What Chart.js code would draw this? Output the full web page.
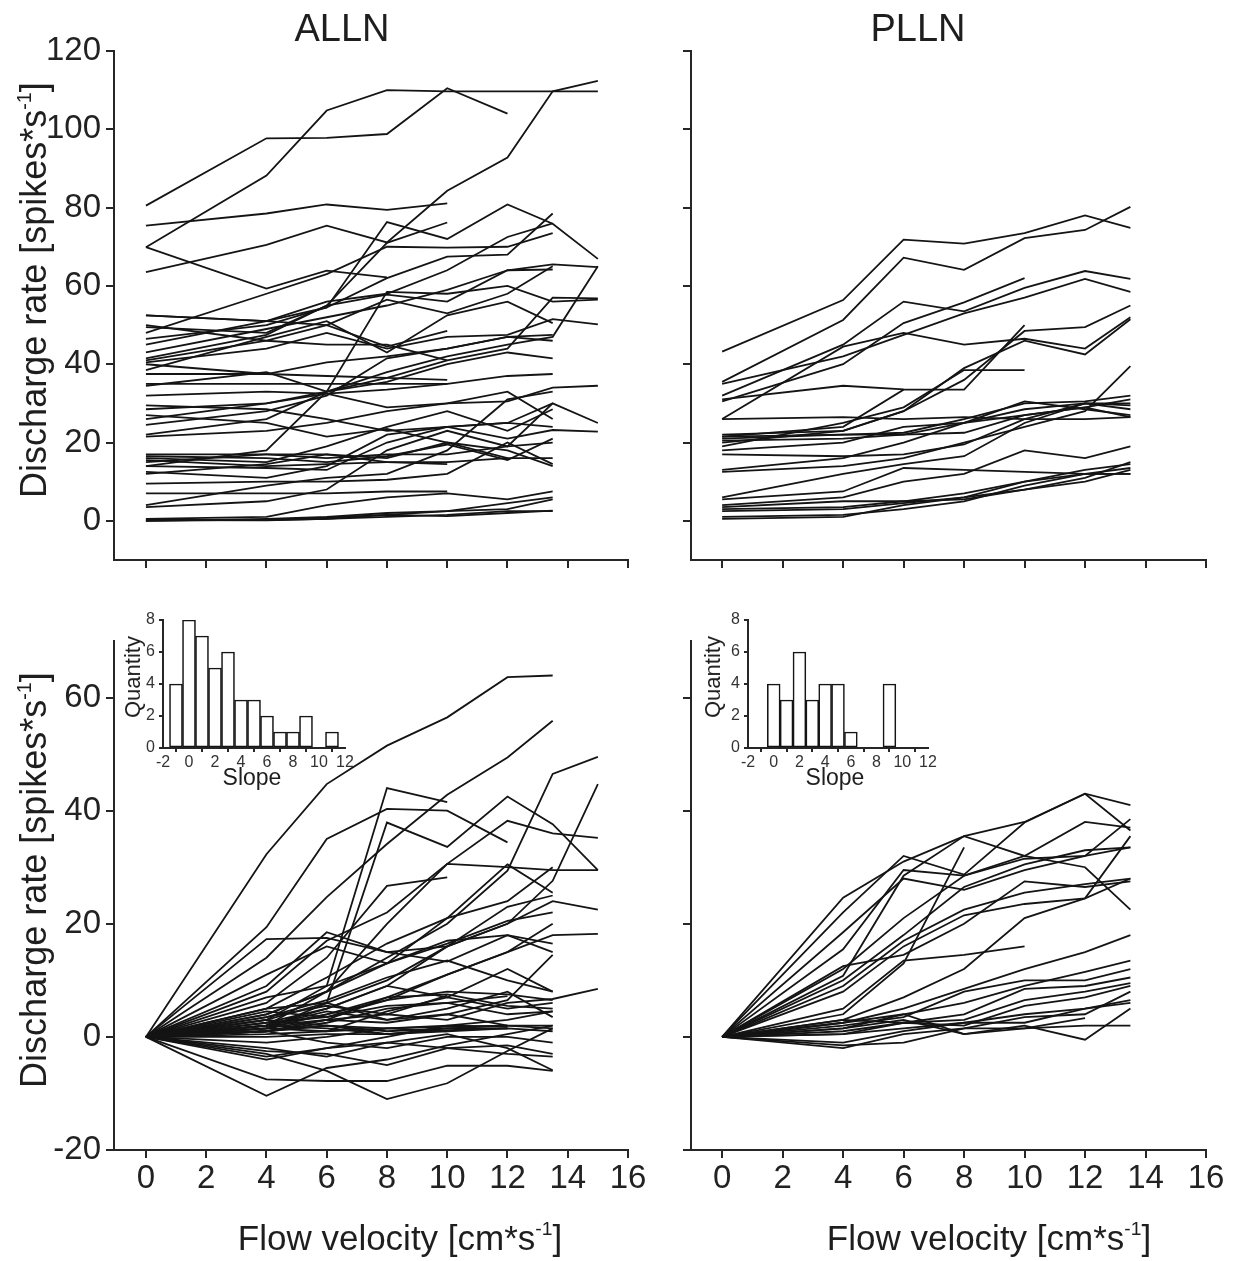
<!DOCTYPE html>
<html>
<head>
<meta charset="utf-8">
<title>ALLN / PLLN discharge rate vs flow velocity</title>
<script src="https://cdn.jsdelivr.net/npm/chart.js@4.4.1/dist/chart.umd.min.js"></script>
<style>
  html, body { margin: 0; padding: 0; background: #fff; }
  #fig { position: relative; width: 1240px; height: 1261px; overflow: hidden;
         font-family: 'Liberation Sans', Arial, sans-serif; color: #1e1e1e; }
  #fig canvas { position: absolute; left: 0; top: 0; }
  .lbl { position: absolute; white-space: nowrap; line-height: 1; transform: translate(-50%, -50%); }
  .rot { transform: translate(-50%, -50%) rotate(-90deg); }
  .sup { font-size: 0.55em; position: relative; top: -0.78em; }
</style>
</head>
<body>
<div id="fig">
  <canvas id="allnRaw" width="1240" height="1261"></canvas>
  <canvas id="pllnRaw" width="1240" height="1261"></canvas>
  <canvas id="allnDelta" width="1240" height="1261"></canvas>
  <canvas id="pllnDelta" width="1240" height="1261"></canvas>
  <canvas id="allnSlope" width="1240" height="1261"></canvas>
  <canvas id="pllnSlope" width="1240" height="1261"></canvas>

  <div class="lbl" style="left:342px;top:28px;font-size:38px">ALLN</div>
  <div class="lbl" style="left:918px;top:28px;font-size:38px">PLLN</div>

  <div class="lbl rot" style="left:34px;top:290px;font-size:36px">Discharge rate [spikes*s<span class="sup">-1</span>]</div>
  <div class="lbl rot" style="left:34px;top:880px;font-size:36px">Discharge rate [spikes*s<span class="sup">-1</span>]</div>

  <div class="lbl" style="left:400px;top:1237px;font-size:35px">Flow velocity [cm*s<span class="sup">-1</span>]</div>
  <div class="lbl" style="left:989px;top:1237px;font-size:35px">Flow velocity [cm*s<span class="sup">-1</span>]</div>

  <div class="lbl rot" style="left:133px;top:677px;font-size:22px">Quantity</div>
  <div class="lbl rot" style="left:713px;top:677px;font-size:22px">Quantity</div>
  <div class="lbl" style="left:252px;top:777px;font-size:23px">Slope</div>
  <div class="lbl" style="left:835px;top:777px;font-size:23px">Slope</div>
</div>

<script>
// ---- flow velocities at which each unit was recorded ----
const VEL_ALLN = [0, 4, 6, 8, 10, 12, 13.5, 15];
const VEL_PLLN = [0, 4, 6, 8, 10, 12, 13.5];

// ---- tick values ----
const X_TICKS = [0, 2, 4, 6, 8, 10, 12, 14, 16];
const Y_TICKS_RAW = [0, 20, 40, 60, 80, 100, 120];
const Y_TICKS_DELTA = [-20, 0, 20, 40, 60];
const SLOPE_TICKS = [-2, 0, 2, 4, 6, 8, 10, 12];
const COUNT_TICKS = [0, 2, 4, 6, 8];

// ---- ALLN units: discharge rate (spikes/s) per velocity ----
const ALLN_RAW = [
  [80.5, 97.7, 97.8, 98.8, 110.5, 104],
  [69.9, 88.2, 104.8, 110.0, 109.7, 109.7, 109.7, 109.7],
  [75.4, 78.5, 80.8, 79.4, 81.1],
  [69.9, 59.3, 63.9, 62.2],
  [63.5, 70.5, 75.4, 71.1, 84.3, 92.8, 109.7, 112.4],
  [52.5, 51.0, 54.5, 76.3, 72.0, 80.8, 75.9, 66.9],
  [49.5, 48.0, 55.0, 71.0, 76.2],
  [48.0, 58.0, 63.0, 70.0, 69.8, 70.0, 73.5],
  [46.5, 50.0, 54.5, 62.0, 67.5, 68.0, 78.5],
  [45.0, 51.0, 56.0, 58.0, 64.0, 72.5, 76.0],
  [43.0, 49.0, 52.0, 55.0, 59.0, 64.0, 65.5, 64.8],
  [41.5, 47.5, 55.0, 57.8, 56.0, 64.0, 64.2],
  [41.0, 46.0, 50.0, 56.5, 53.0, 58.0, 65.0],
  [40.5, 44.0, 48.0, 44.0, 47.0, 47.5, 51.5, 50.2],
  [38.5, 47.0, 51.0, 43.0, 52.5, 56.0, 50.5],
  [52.5, 51.0, 50.0, 44.5, 48.5],
  [50.0, 46.0, 45.0, 45.0, 41.0],
  [40.0, 37.5, 40.5, 42.0, 44.0, 47.0, 47.5],
  [37.5, 37.5, 37.0, 36.5, 36.0],
  [35.0, 35.0, 35.0, 35.0, 35.0],
  [34.5, 38.0, 33.0, 35.5, 40.0, 43.0, 41.5],
  [32.0, 33.0, 32.5, 29.0, 30.0, 33.0, 26.0],
  [29.5, 28.5, 26.0, 23.0, 24.0, 21.0, 23.2, 22.8],
  [28.5, 30.0, 33.0, 38.0, 42.0, 45.0, 47.0, 65.0],
  [14.0, 18.0, 33.0, 58.5, 58.0, 60.0, 56.0, 56.5],
  [27.0, 25.0, 21.5, 23.5, 20.0, 16.0, 16.0],
  [26.0, 30.0, 32.5, 33.5, 35.0, 37.0, 37.5],
  [24.5, 28.0, 32.0, 41.5, 44.0, 47.0, 46.0],
  [22.0, 26.0, 33.0, 36.5, 41.0, 44.0, 57.0, 56.8],
  [21.5, 23.0, 25.0, 28.0, 30.0, 30.5, 34.0, 34.5],
  [17.0, 17.0, 16.0, 17.0, 17.0, 19.0, 20.0],
  [16.5, 16.0, 15.0, 16.5, 19.5, 15.5, 21.0],
  [16.0, 15.0, 19.0, 24.0, 28.0, 23.0, 28.5],
  [15.5, 14.0, 14.5, 15.0, 15.0, 16.0],
  [15.0, 17.0, 17.0, 15.0, 14.5],
  [14.0, 13.5, 13.0, 20.0, 24.0, 25.0, 30.0],
  [12.5, 11.0, 14.0, 22.0, 24.0, 25.0, 24.0],
  [12.0, 14.5, 17.0, 16.0, 20.0, 18.0, 14.0],
  [9.5, 10.0, 10.0, 10.5, 12.0, 20.0, 14.5],
  [7.0, 7.0, 7.0, 7.5, 7.5],
  [4.0, 9.0, 11.0, 12.0, 18.0, 31.0, 33.0],
  [3.5, 5.0, 8.0, 18.0, 23.0, 19.0, 30.0, 25.0],
  [0.5, 1.0, 4.0, 6.0, 7.0, 5.5, 7.5],
  [0.3, 0.2, 0.5, 1.5, 2.5, 4.5, 6.0],
  [0.2, 0.1, 0.5, 1.0, 1.5, 2.5, 2.5],
  [0.0, 0.5, 1.0, 2.0, 2.5, 3.0, 5.5],
  [0.0, 0.3, 0.8, 1.5, 1.2, 2.0, 2.6]
];

// ---- PLLN units: discharge rate (spikes/s) per velocity ----
const PLLN_RAW = [
  [43.2, 56.4, 71.8, 70.8, 73.5, 78.0, 74.8],
  [35.5, 51.3, 67.2, 64.1, 72.2, 74.3, 80.2],
  [35.0, 42.0, 47.5, 53.0, 57.0, 61.8, 58.5],
  [32.0, 45.0, 56.0, 53.5, 59.5, 63.8, 61.8],
  [30.5, 40.0, 50.5, 55.8, 62.0],
  [26.0, 44.5, 48.0, 45.0, 46.5, 44.0, 52.0],
  [26.0, 26.5, 26.0, 26.5, 26.0, 26.0, 26.5],
  [22.0, 23.0, 28.0, 36.0, 48.5, 49.5, 55.0],
  [21.5, 24.0, 33.5, 33.5, 50.0],
  [21.0, 22.0, 22.5, 26.0, 30.0, 30.5, 32.0],
  [20.5, 21.0, 22.0, 22.5, 27.0, 29.0, 31.0],
  [20.0, 23.0, 28.0, 39.0, 46.0, 42.5, 51.5],
  [19.0, 25.0, 29.0, 38.5, 38.5],
  [18.0, 20.0, 24.0, 25.0, 28.5, 30.0, 29.5],
  [17.0, 16.5, 17.0, 19.5, 26.0, 30.0, 28.5],
  [13.0, 16.0, 20.0, 25.0, 27.0, 29.0, 26.5],
  [12.5, 14.0, 16.0, 20.0, 24.0, 28.0, 39.5],
  [31.0, 34.5, 33.6],
  [6.0, 12.0, 14.5, 16.5, 25.0, 30.0, 30.0],
  [5.5, 7.5, 13.5, 13.0, 12.5, 12.0, 12.0],
  [4.0, 6.0, 10.0, 12.0, 18.0, 16.0, 19.0],
  [3.5, 5.0, 5.0, 7.0, 10.0, 13.0, 14.5],
  [3.0, 3.5, 5.0, 5.5, 8.0, 11.0, 15.0],
  [2.5, 3.0, 4.5, 6.0, 8.0, 10.0, 13.0],
  [1.0, 1.5, 3.0, 5.0, 9.0, 12.0, 13.5],
  [0.5, 1.0, 4.0, 6.0, 10.0, 12.0, 12.0],
  [21.5, 22.0, 22.0, 25.0, 30.5, 28.5, 27.0]
];

// ---- ALLN units: change of rate relative to still water ----
const ALLN_DELTA = [
  [0, 32.3, 44.7, 51.5, 56.5, 63.6, 63.9],
  [0, 14.0, 24.7, 34.1, 42.8, 49.4, 55.9],
  [0, 19.4, 35.0, 40.3, 40.0, 34.4],
  [0, 3.0, 9.0, 44.0, 41.5],
  [0, 1.5, 6.0, 37.9, 33.6, 42.5, 37.6, 29.5],
  [0, 2.0, 8.0, 20.0, 30.6, 38.2, 36.0, 35.2],
  [0, 4.0, 8.0, 14.0, 20.0, 29.4, 46.5, 49.5],
  [0, 2.0, 5.0, 9.0, 16.0, 20.0, 27.6, 44.7],
  [0, 8.0, 17.0, 22.0, 30.6, 30.0, 29.5, 29.5],
  [0, 6.0, 14.0, 26.7, 28.2],
  [0, 3.0, 6.0, 10.0, 16.0, 20.0, 24.0, 22.5],
  [0, 1.5, 4.0, 7.0, 11.0, 15.0, 18.0, 18.2],
  [0, 2.0, 3.0, 4.0, 3.0, 6.0, 6.7, 8.5],
  [0, 17.3, 17.5, 15.0, 13.3, 18.0, 16.5],
  [0, -10.4, -5.5, -4.0, -1.5, 0.5, 2.0],
  [0, -3.0, -6.0, -11.0, -8.2, -2.5, 1.5],
  [0, -7.5, -7.8, -7.8, -5.1, -5.1, -6.0],
  [0, -2.0, -3.5, -1.0, 0.5, -2.0, -5.9],
  [0, -4.0, -2.0, -1.0, -2.0, -3.0, -3.5],
  [0, 1.0, -1.0, -2.0, 0.0, 0.0, -1.0],
  [0, 9.0, 18.5, 15.0, 16.0, 23.0, 25.0],
  [0, 11.0, 16.0, 13.0, 16.5, 20.5, 22.0],
  [0, 7.0, 9.0, 13.0, 21.0, 24.0, 30.0],
  [0, 5.0, 10.5, 16.5, 21.0, 30.5, 25.5],
  [0, 4.0, 8.0, 13.0, 17.0, 18.0, 15.0],
  [0, 3.5, 6.5, 10.5, 13.5, 10.0, 8.0],
  [0, 2.5, 5.0, 9.0, 7.0, 12.0, 8.0],
  [0, 2.0, 4.0, 6.5, 8.0, 7.5, 6.5],
  [0, 1.5, 3.0, 7.0, 7.5, 5.5, 5.0],
  [0, 1.0, 2.5, 5.0, 6.0, 4.0, 4.5],
  [0, 3.0, 2.0, 1.0, 1.5, 2.0, 2.0],
  [0, 2.0, 1.5, 0.5, 1.0, 1.5, 1.0],
  [0, 0.5, 1.0, 1.5, 1.8, 2.0],
  [0, 1.0, 2.0, 0.5, 1.2, 1.5],
  [0, -1.0, 0.0, 1.5, 2.0, 1.8],
  [0, 0.0, 0.5, 0.5, 1.5, 1.5],
  [0, 2.5, 3.5, 5.5, 6.0, 7.2],
  [0, 3.5, 5.5, 4.0, 7.3],
  [0, 1.0, 2.0, 1.5, 1.0],
  [0, -2.5, -3.0, -5.0, -2.0, -1.5, -3.0],
  [0, -3.5, -2.0, 0.0, 2.0, 3.0, 4.5],
  [0, 4.5, 3.5, 6.5, 11.0, 15.0, 20.0],
  [0, 1.0, 3.0, 2.5, 4.0, 6.5, 14.5],
  [0, 2.0, 4.5, 3.0, 5.0, 8.0, 3.5],
  [0, 5.0, 6.0, 3.0, 4.0, 2.0, 1.5],
  [0, 1.5, 1.0, 4.5, 7.0, 5.0, 6.0]
];

// ---- PLLN units: change of rate relative to still water ----
const PLLN_DELTA = [
  [0, 24.6, 31.0, 35.5, 38.0, 43.0, 41.0],
  [0, 22.0, 32.0, 28.7, 37.9, 43.0, 36.5],
  [0, 18.5, 28.0, 26.0, 29.5, 32.0, 38.5],
  [0, 15.5, 29.5, 28.5, 32.0, 30.0, 22.5],
  [0, 12.0, 21.0, 28.5, 31.5, 32.0, 33.5],
  [0, 9.0, 17.0, 22.5, 25.5, 27.0, 28.0],
  [0, 12.5, 14.5, 20.0, 27.5, 26.5, 27.5],
  [0, 8.0, 16.0, 21.5, 23.5, 24.5, 35.5],
  [0, 5.0, 13.5, 14.5, 16.0],
  [0, 4.0, 13.0, 33.5],
  [0, 3.0, 7.0, 12.0, 21.0, 24.5, 28.0],
  [0, 2.5, 5.0, 8.5, 12.0, 15.0, 18.0],
  [0, 1.5, 4.0, 6.0, 9.0, 11.5, 13.5],
  [0, 2.0, 3.5, 8.0, 10.0, 10.0, 12.0],
  [0, 3.0, 2.5, 4.0, 8.5, 9.0, 10.5],
  [0, 1.0, 2.5, 3.0, 6.5, 8.0, 9.5],
  [0, 0.5, 2.5, 2.0, 5.5, 7.0, 9.0],
  [0, -2.0, 0.5, 1.5, 3.5, 4.0, 8.0],
  [0, -1.0, 1.0, 2.5, 2.5, 5.0, 6.5],
  [0, 1.5, 3.0, 0.5, 2.0, -0.5, 5.0],
  [0, -1.5, -1.0, 1.5, 1.5, 2.0, 2.0],
  [0, 2.5, 4.0, 0.5, 1.5, 3.3],
  [0, 0.5, 1.5, 2.5, 4.0, 5.0, 6.0],
  [0, 10.0, 18.0, 26.5, 30.5, 33.0, 33.5],
  [0, 10.8, 28.5, 35.5, 32.0, 38.0, 37.0]
];

// ---- slope histograms (bin centre, number of units) ----
const SLOPE_BINS_ALLN = [-1, 0, 1, 2, 3, 4, 5, 6, 7, 8, 9, 10, 11];
const SLOPE_COUNT_ALLN = [4, 8, 7, 5, 6, 3, 3, 2, 1, 1, 2, 0, 1];
const SLOPE_BINS_PLLN = [0, 1, 2, 3, 4, 5, 6, 7, 8, 9];
const SLOPE_COUNT_PLLN = [4, 3, 6, 3, 4, 4, 1, 0, 0, 4];

// ---------------------------------------------------------------
const PAGE_W = 1240, PAGE_H = 1261;
const INK = '#141414';
const AXIS = '#262626';
Chart.defaults.font.family = "'Liberation Sans', Arial, sans-serif";
Chart.defaults.color = '#1e1e1e';

function fixedTicks(values) {
  return scale => { scale.ticks = values.map(v => ({ value: v })); };
}

function axisStyle(tickLen, width) {
  return {
    grid: { display: true, drawOnChartArea: false, drawTicks: true, tickLength: tickLen,
            color: AXIS, lineWidth: width },
    border: { display: true, color: AXIS, width: width }
  };
}

// layout padding that puts the plot area at fixed page coordinates
function placed(area, wy, hx) {
  return {
    left: area.l - wy,
    top: area.t,
    right: PAGE_W - area.r,
    bottom: PAGE_H - area.b - hx
  };
}

function ratePanel(id, area, series, vel, xRange, yRange, yTicks, showX, showY) {
  const WY = 104, HX = 52;
  const datasets = series.map(s => ({
    data: s.map((v, i) => ({ x: vel[i], y: v })),
    borderColor: INK,
    borderWidth: 1.8,
    pointRadius: 0,
    fill: false,
    tension: 0
  }));
  return new Chart(document.getElementById(id), {
    type: 'line',
    data: { datasets },
    options: {
      responsive: false, animation: false, devicePixelRatio: 1, events: [],
      layout: { padding: placed(area, WY, HX) },
      plugins: { legend: { display: false }, tooltip: { enabled: false } },
      scales: {
        x: Object.assign({
          type: 'linear', min: xRange[0], max: xRange[1],
          afterFit: s => { s.height = HX; },
          afterBuildTicks: fixedTicks(X_TICKS),
          ticks: { display: showX, font: { size: 33 }, padding: 1, color: '#222', maxRotation: 0 }
        }, axisStyle(8, 2)),
        y: Object.assign({
          type: 'linear', min: yRange[0], max: yRange[1],
          afterFit: s => { s.width = WY; },
          afterBuildTicks: fixedTicks(yTicks),
          ticks: { display: showY, font: { size: 33 }, padding: 5, color: '#222' }
        }, axisStyle(8, 2))
      }
    }
  });
}

function slopeInset(id, area, bins, counts) {
  const WY = 30, HX = 26;
  const pts = [];
  bins.forEach((b, i) => { if (counts[i] > 0) pts.push({ x: b, y: counts[i] }); });
  return new Chart(document.getElementById(id), {
    type: 'bar',
    data: { datasets: [{
      data: pts,
      backgroundColor: '#ffffff',
      borderColor: INK,
      borderWidth: 1.6,
      borderSkipped: false,
      barPercentage: 1,
      categoryPercentage: 1
    }] },
    options: {
      responsive: false, animation: false, devicePixelRatio: 1, events: [],
      layout: { padding: placed(area, WY, HX) },
      plugins: { legend: { display: false }, tooltip: { enabled: false } },
      scales: {
        x: Object.assign({
          type: 'linear', min: -2, max: 12, offset: false,
          afterFit: s => { s.height = HX; },
          afterBuildTicks: fixedTicks(SLOPE_TICKS),
          ticks: { font: { size: 16 }, padding: 1, color: '#333', maxRotation: 0 }
        }, axisStyle(4, 2)),
        y: Object.assign({
          type: 'linear', min: 0, max: 8,
          afterFit: s => { s.width = WY; },
          afterBuildTicks: fixedTicks(COUNT_TICKS),
          ticks: { font: { size: 16 }, padding: 4, color: '#333' }
        }, axisStyle(4, 2))
      }
    }
  });
}

// plot areas (page pixels)
const TOP_LEFT = { l: 114, r: 628, t: 51, b: 560 };
const TOP_RIGHT = { l: 691, r: 1206, t: 51, b: 560 };
const BOT_LEFT = { l: 114, r: 628, t: 641, b: 1150 };
const BOT_RIGHT = { l: 691, r: 1206, t: 641, b: 1150 };

ratePanel('allnRaw', TOP_LEFT, ALLN_RAW, VEL_ALLN, [-1.06, 16], [-10, 120], Y_TICKS_RAW, false, true);
ratePanel('pllnRaw', TOP_RIGHT, PLLN_RAW, VEL_PLLN, [-1.03, 16], [-10, 120], Y_TICKS_RAW, false, false);
ratePanel('allnDelta', BOT_LEFT, ALLN_DELTA, VEL_ALLN, [-1.06, 16], [-20, 70], Y_TICKS_DELTA, true, true);
ratePanel('pllnDelta', BOT_RIGHT, PLLN_DELTA, VEL_PLLN, [-1.03, 16], [-20, 70], Y_TICKS_DELTA, true, false);

slopeInset('allnSlope', { l: 163, r: 345, t: 620, b: 748 }, SLOPE_BINS_ALLN, SLOPE_COUNT_ALLN);
slopeInset('pllnSlope', { l: 748, r: 928, t: 620, b: 748 }, SLOPE_BINS_PLLN, SLOPE_COUNT_PLLN);
</script>
</body>
</html>
